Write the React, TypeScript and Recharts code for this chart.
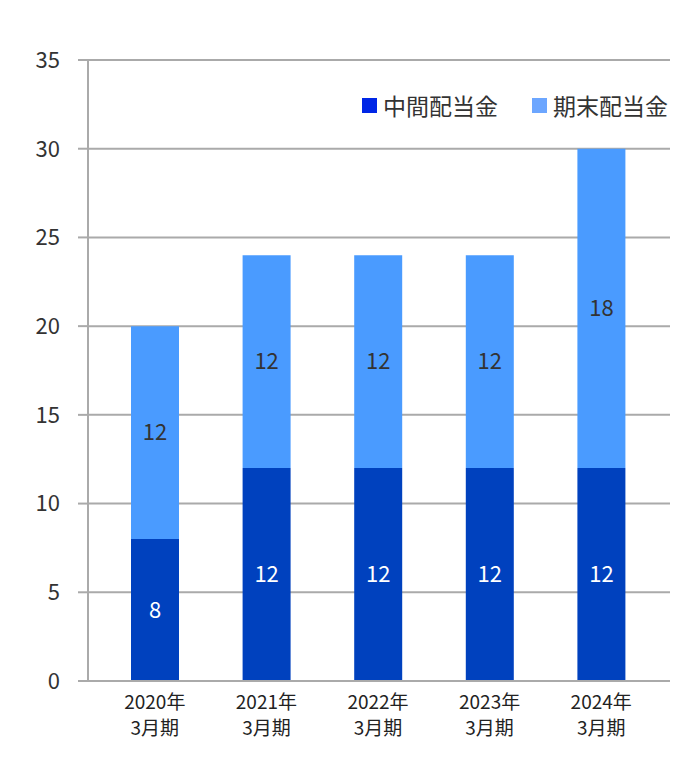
import { BarChart, Bar, XAxis, YAxis, CartesianGrid, LabelList } from 'recharts';

const years = ['2020年', '2021年', '2022年', '2023年', '2024年'];
const periods = ['3月期', '3月期', '3月期', '3月期', '3月期'];
const interim = [8, 12, 12, 12, 12];
const yearEnd = [12, 12, 12, 12, 18];
const yTicks = [0, 5, 10, 15, 20, 25, 30, 35];

const data = years.map((y, i) => ({
  name: y,
  interim: interim[i],
  yearEnd: yearEnd[i],
}));

const FONT = '"Noto Sans CJK JP", "Noto Sans", sans-serif';

const XTick = (props: any) => {
  const { x, y, payload, index } = props;
  return (
    <g>
      <text x={x} y={y + 20} textAnchor="middle" fill="#222" fontSize={19} fontFamily={FONT}>
        {payload.value}
      </text>
      <text x={x} y={y + 46} textAnchor="middle" fill="#222" fontSize={19} fontFamily={FONT}>
        {periods[index]}
      </text>
    </g>
  );
};

const legendItems = [
  { label: '中間配当金', color: '#0026E6' },
  { label: '期末配当金', color: '#6CA6FF' },
];

export default function App() {
  return (
    <div style={{ position: 'relative', width: 692, height: 751 }}>
      <BarChart
        width={692}
        height={751}
        data={data}
        margin={{ top: 52, right: 30, left: 0, bottom: 0 }}
      >
        <CartesianGrid vertical={false} stroke="#AAAAAA" strokeWidth={2} />
        <XAxis
          dataKey="name"
          height={78}
          tick={<XTick />}
          tickLine={false}
          axisLine={{ stroke: '#AAAAAA', strokeWidth: 2 }}
          padding={{ left: 11, right: 13 }}
          interval={0}
        />
        <YAxis
          width={80}
          domain={[0, 35]}
          ticks={yTicks}
          tickSize={10}
          tickLine={{ stroke: '#AAAAAA', strokeWidth: 2 }}
          axisLine={{ stroke: '#AAAAAA', strokeWidth: 2 }}
          tick={{ fill: '#333', fontSize: 22, fontFamily: FONT }}
          tickMargin={18}
        />
        <Bar dataKey="interim" stackId="a" fill="#0041BE" barSize={48} isAnimationActive={false}>
          <LabelList dataKey="interim" position="center" fill="#FFFFFF" fontSize={22} fontFamily={FONT} />
        </Bar>
        <Bar dataKey="yearEnd" stackId="a" fill="#4A9BFF" barSize={48} isAnimationActive={false}>
          <LabelList dataKey="yearEnd" position="center" fill="#333" fontSize={22} fontFamily={FONT} />
        </Bar>
      </BarChart>
      <div
        style={{
          position: 'absolute', top: 80, right: 32, display: 'flex', gap: 34,
          fontFamily: FONT, fontSize: 23, color: '#333', whiteSpace: 'nowrap',
        }}
      >
        {legendItems.map((it) => (
          <div key={it.label} style={{ display: 'flex', alignItems: 'center' }}>
            <span style={{ width: 15, height: 15, background: it.color, display: 'inline-block', marginRight: 6 }} />
            <span>{it.label}</span>
          </div>
        ))}
      </div>
    </div>
  );
}
